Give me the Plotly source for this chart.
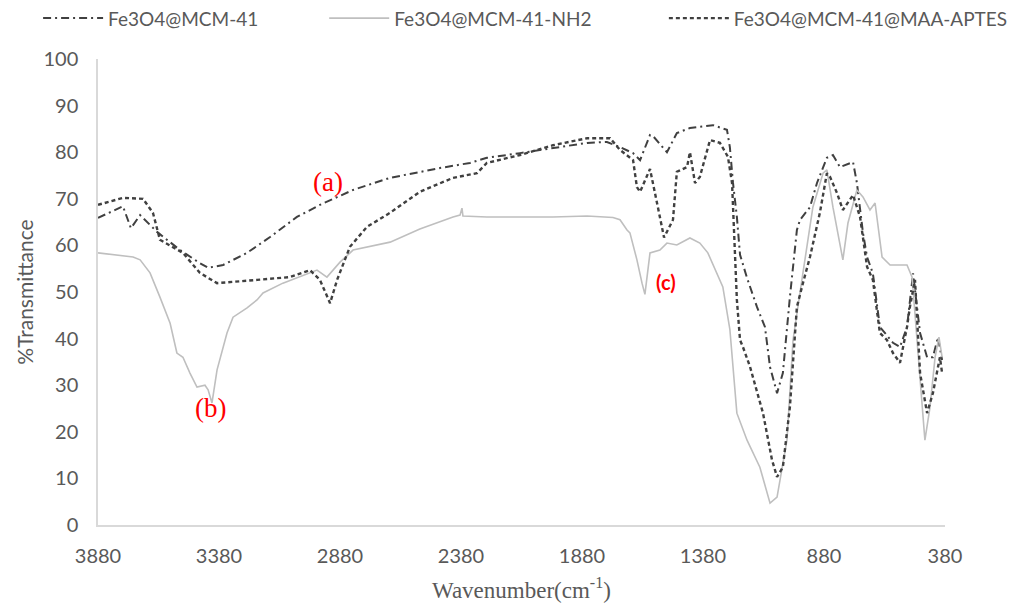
import plotly.graph_objects as go

# ---- data (wavenumber cm-1, %Transmittance) ----
wn_a = [3880, 3777, 3744, 3706, 3636, 3541, 3459, 3425, 3363, 3264, 3169, 3058, 2963, 2826,
        2673, 2467, 2343, 2273, 2136, 2000, 1859, 1777, 1723, 1669, 1640, 1599, 1587, 1529,
        1488, 1434, 1339, 1281, 1269, 1256, 1240, 1227, 1198, 1157, 1124, 1103, 1074, 1050,
        1021, 992, 979, 938, 909, 868, 843, 814, 760, 744, 719, 702, 678, 649, 595, 566,
        537, 512, 483, 454, 430, 409, 392]
t_a = [65.9, 68.4, 63.7, 66.5, 62.9, 59.0, 56.2, 55.2, 55.8, 58.4, 61.8, 66.1, 68.7, 71.9,
       74.5, 76.6, 77.7, 78.8, 79.8, 80.9, 82.0, 82.2, 81.1, 79.8, 78.3, 83.7, 83.5, 80.0,
       84.1, 85.2, 85.8, 84.8, 81.1, 73.4, 66.1, 58.0, 53.0, 46.8, 42.5, 33.9, 28.3, 32.6,
       48.9, 63.3, 65.5, 68.2, 73.4, 78.8, 79.4, 76.8, 77.9, 73.4, 62.7, 57.5, 54.0, 42.5,
       39.1, 38.2, 42.5, 54.0, 41.2, 36.0, 36.0, 40.3, 35.4]

wn_b = [3880, 3735, 3706, 3665, 3624, 3582, 3554, 3529, 3500, 3471, 3438, 3425, 3409, 3388,
        3347, 3322, 3264, 3223, 3198, 3116, 2975, 2934, 2880, 2826, 2673, 2550, 2413, 2384,
        2376, 2372, 2273, 2000, 1859, 1752, 1723, 1694, 1682, 1653, 1632, 1620, 1599, 1558,
        1529, 1488, 1434, 1393, 1360, 1310, 1298, 1269, 1240, 1198, 1145, 1103, 1074, 1033,
        1008, 967, 926, 884, 868, 843, 814, 802, 781, 744, 719, 690, 669, 640, 607, 537,
        516, 496, 475, 463, 442, 421, 405, 392]
t_b = [58.4, 57.5, 56.9, 54.1, 48.9, 43.3, 36.9, 36.0, 32.6, 29.6, 30.0, 29.0, 26.2, 33.3,
       41.2, 44.6, 46.6, 48.3, 49.8, 51.9, 54.7, 53.2, 56.4, 59.0, 60.7, 63.5, 66.1, 66.5,
       68.0, 66.3, 66.1, 66.1, 66.3, 66.0, 65.5, 63.3, 62.7, 56.9, 51.9, 49.5, 58.4, 59.0,
       60.5, 60.1, 61.6, 60.5, 58.4, 52.6, 51.1, 42.0, 24.0, 18.2, 12.4, 4.7, 6.0, 18.2,
       39.7, 54.1, 68.2, 75.5, 76.2, 68.2, 59.7, 56.9, 64.8, 71.9, 70.4, 67.6, 69.1, 57.5,
       55.8, 55.8, 53.2, 39.7, 25.3, 18.2, 25.3, 36.0, 40.3, 36.0]

wn_c = [3880, 3777, 3694, 3653, 3624, 3529, 3459, 3388, 3223, 3087, 3004, 2963, 2921, 2892,
        2839, 2768, 2673, 2550, 2413, 2314, 2273, 2136, 2000, 1859, 1764, 1723, 1669, 1653,
        1640, 1599, 1570, 1541, 1504, 1488, 1446, 1434, 1413, 1393, 1351, 1310, 1277, 1260,
        1240, 1227, 1215, 1186, 1132, 1095, 1074, 1050, 1021, 992, 967, 938, 897, 868, 855,
        826, 802, 773, 760, 731, 702, 678, 649, 620, 595, 566, 537, 525, 504, 483, 454, 430,
        401, 392]
t_c = [68.7, 70.2, 70.0, 67.0, 61.2, 58.4, 54.1, 51.9, 52.6, 53.2, 54.7, 52.6, 47.6, 52.6,
       59.7, 64.0, 67.0, 71.5, 74.5, 75.5, 77.7, 79.4, 81.5, 83.0, 83.0, 80.5, 78.3, 72.5,
       71.5, 76.4, 69.1, 61.7, 65.5, 75.8, 76.8, 80.0, 73.4, 74.7, 82.6, 82.0, 79.0, 73.4,
       48.3, 39.7, 38.2, 34.0, 24.0, 14.0, 10.3, 12.4, 25.3, 46.8, 51.9, 57.5, 67.0, 75.5,
       74.7, 71.2, 67.6, 69.7, 70.8, 66.1, 55.4, 52.6, 41.2, 39.7, 36.9, 34.8, 42.5, 46.8,
       52.6, 32.6, 24.0, 28.3, 36.0, 32.6]

names = ["Fe3O4@MCM-41", "Fe3O4@MCM-41-NH2", "Fe3O4@MCM-41@MAA-APTES"]
x_ticks = [3880, 3380, 2880, 2380, 1880, 1380, 880, 380]
y_ticks = [0, 10, 20, 30, 40, 50, 60, 70, 80, 90, 100]
labels = ["(a)", "(b)", "(c)"]
label_pos = [(2930, 73.6), (3417, 25.1), (1533, 52.1)]

SANS = "Lato, 'Open Sans', sans-serif"
SERIF = "'Liberation Serif', 'DejaVu Serif', serif"
GREY = "#595959"

fig = go.Figure()
fig.add_trace(go.Scatter(x=wn_a, y=t_a, mode="lines", name=names[0], legend="legend",
                         line=dict(color="#404040", width=2, dash="8px,4px,2px,4px")))
fig.add_trace(go.Scatter(x=wn_b, y=t_b, mode="lines", name=names[1], legend="legend2",
                         line=dict(color="#bfbfbf", width=1.6)))
fig.add_trace(go.Scatter(x=wn_c, y=t_c, mode="lines", name=names[2], legend="legend3",
                         line=dict(color="#404040", width=2.4, dash="4px,3px")))

for lab, (lx, ly) in zip(labels, label_pos):
    if lab == "(c)":
        f = dict(family=SANS, size=20, color="#ff0000", weight="bold")
    else:
        f = dict(family=SERIF, size=27, color="#ff0000")
    fig.add_annotation(x=lx, y=ly, text=lab, showarrow=False, font=f)

# page body adds an 8px offset; positions below compensate for it
leg_common = dict(orientation="h", xref="container", yref="container",
                  yanchor="middle", y=0.983, xanchor="left", visible=True,
                  bgcolor="rgba(0,0,0,0)", font=dict(family=SANS, size=19, color=GREY),
                  itemwidth=60)

fig.update_layout(
    width=1020, height=603,
    showlegend=True,
    margin=dict(l=90, r=83, t=51, b=86, autoexpand=False),
    paper_bgcolor="white", plot_bgcolor="white",
    legend=dict(x=0.0295, **leg_common),
    legend2=dict(x=0.310, **leg_common),
    legend3=dict(x=0.643, **leg_common),
    xaxis=dict(range=[3880, 380], tickvals=x_ticks, showgrid=False, zeroline=False,
               showline=True, linecolor="#d9d9d9", linewidth=1.5, ticks="",
               automargin=False, ticklabelstandoff=12,
               tickfont=dict(family=SANS, size=20, color=GREY),
               title=dict(text="Wavenumber(cm<sup>-1</sup>)", standoff=16,
                          font=dict(family=SERIF, size=23, color=GREY))),
    yaxis=dict(range=[0, 100], tickvals=y_ticks, showgrid=False, zeroline=False,
               showline=True, linecolor="#d9d9d9", linewidth=1.5, ticks="",
               automargin=False, ticklabelstandoff=14,
               tickfont=dict(family=SANS, size=20, color=GREY),
               title=dict(text="%Transmittance", standoff=4,
                          font=dict(family=SANS, size=21, color=GREY))),
)

fig.write_html("out.html")
